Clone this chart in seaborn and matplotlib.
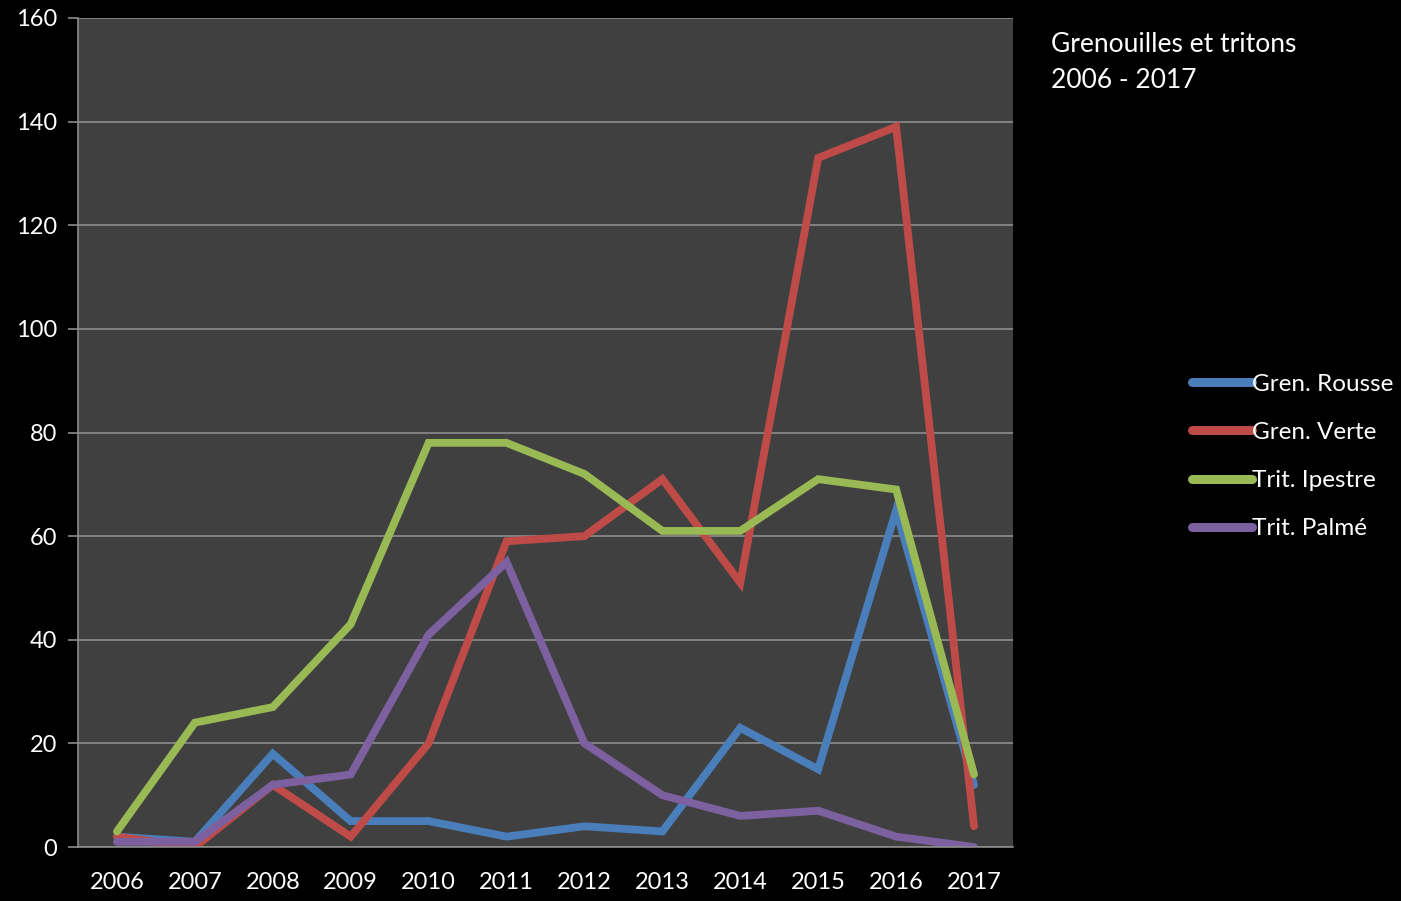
import matplotlib
matplotlib.use("Agg")
import matplotlib.pyplot as plt
import numpy as np
import pandas as pd
import seaborn as sns

years = ["2006", "2007", "2008", "2009", "2010", "2011",
         "2012", "2013", "2014", "2015", "2016", "2017"]
gren_rousse = [2, 1, 18, 5, 5, 2, 4, 3, 23, 15, 65, 12]
gren_verte = [2, 0, 12, 2, 20, 59, 60, 71, 51, 133, 139, 4]
trit_ipestre = [3, 24, 27, 43, 78, 78, 72, 61, 61, 71, 69, 14]
trit_palme = [1, 1, 12, 14, 41, 55, 20, 10, 6, 7, 2, 0]

series_names = ["Gren. Rousse", "Gren. Verte", "Trit. Ipestre", "Trit. Palmé"]
colors = ["#4A7EBB", "#BE4B48", "#98B954", "#7D60A0"]

rows = []
for name, vals in zip(series_names,
                      [gren_rousse, gren_verte, trit_ipestre, trit_palme]):
    for i, v in enumerate(vals):
        rows.append({"idx": i, "valeur": v, "serie": name})
df = pd.DataFrame(rows)

sns.set_style("dark")
plt.rcParams["font.family"] = ["Lato", "DejaVu Sans"]

fig = plt.figure(figsize=(14.01, 9.01), dpi=100, facecolor="black")
ax = fig.add_axes([78 / 1401, 1 - 847 / 901, (1013 - 78) / 1401, (847 - 18) / 901])
ax.set_facecolor("#404040")

sns.lineplot(data=df, x="idx", y="valeur", hue="serie", palette=colors,
             hue_order=series_names, linewidth=5.6, ax=ax,
             solid_capstyle="round", solid_joinstyle="miter")

ax.set_xlim(-0.5, len(years) - 0.5)
ax.set_ylim(0, 160)
ax.set_yticks(np.arange(0, 161, 20))
ax.yaxis.grid(True, color="#8c8c8c", linewidth=1.2)
ax.xaxis.grid(False)
ax.set_xticks(range(len(years)))
ax.set_xticklabels(years)
ax.set_xticks(np.arange(-0.5, len(years), 1), minor=True)
ax.tick_params(axis="x", which="major", length=0, colors="white",
               labelsize=17, pad=18)
ax.tick_params(axis="x", which="minor", length=7, color="#8c8c8c",
               direction="out", width=1.2)
ax.tick_params(axis="y", length=7, color="#8c8c8c", direction="out",
               width=1.2, labelcolor="white", labelsize=17, left=True, pad=8)
ax.set_xlabel("")
ax.set_ylabel("")
for side in ["top", "right"]:
    ax.spines[side].set_visible(False)
for side in ["left", "bottom"]:
    ax.spines[side].set_visible(True)
    ax.spines[side].set_color("#8c8c8c")
    ax.spines[side].set_linewidth(1.2)

fig.text(1051 / 1401, 1 - 32 / 901, "Grenouilles et tritons\n2006 - 2017",
         color="white", fontsize=19, va="top", ha="left", linespacing=1.55)

leg = ax.legend(loc="upper left", bbox_to_anchor=(1182 / 1401, 1 - 364 / 901),
                bbox_transform=fig.transFigure, frameon=False, fontsize=17.5,
                handlelength=2.5, handletextpad=0.0, labelspacing=1.12,
                borderaxespad=0.0)
for t in leg.get_texts():
    t.set_color("white")
for line in leg.get_lines():
    line.set_linewidth(6.5)
    line.set_solid_capstyle("round")

fig.savefig("out.png", dpi=100, facecolor="black")
